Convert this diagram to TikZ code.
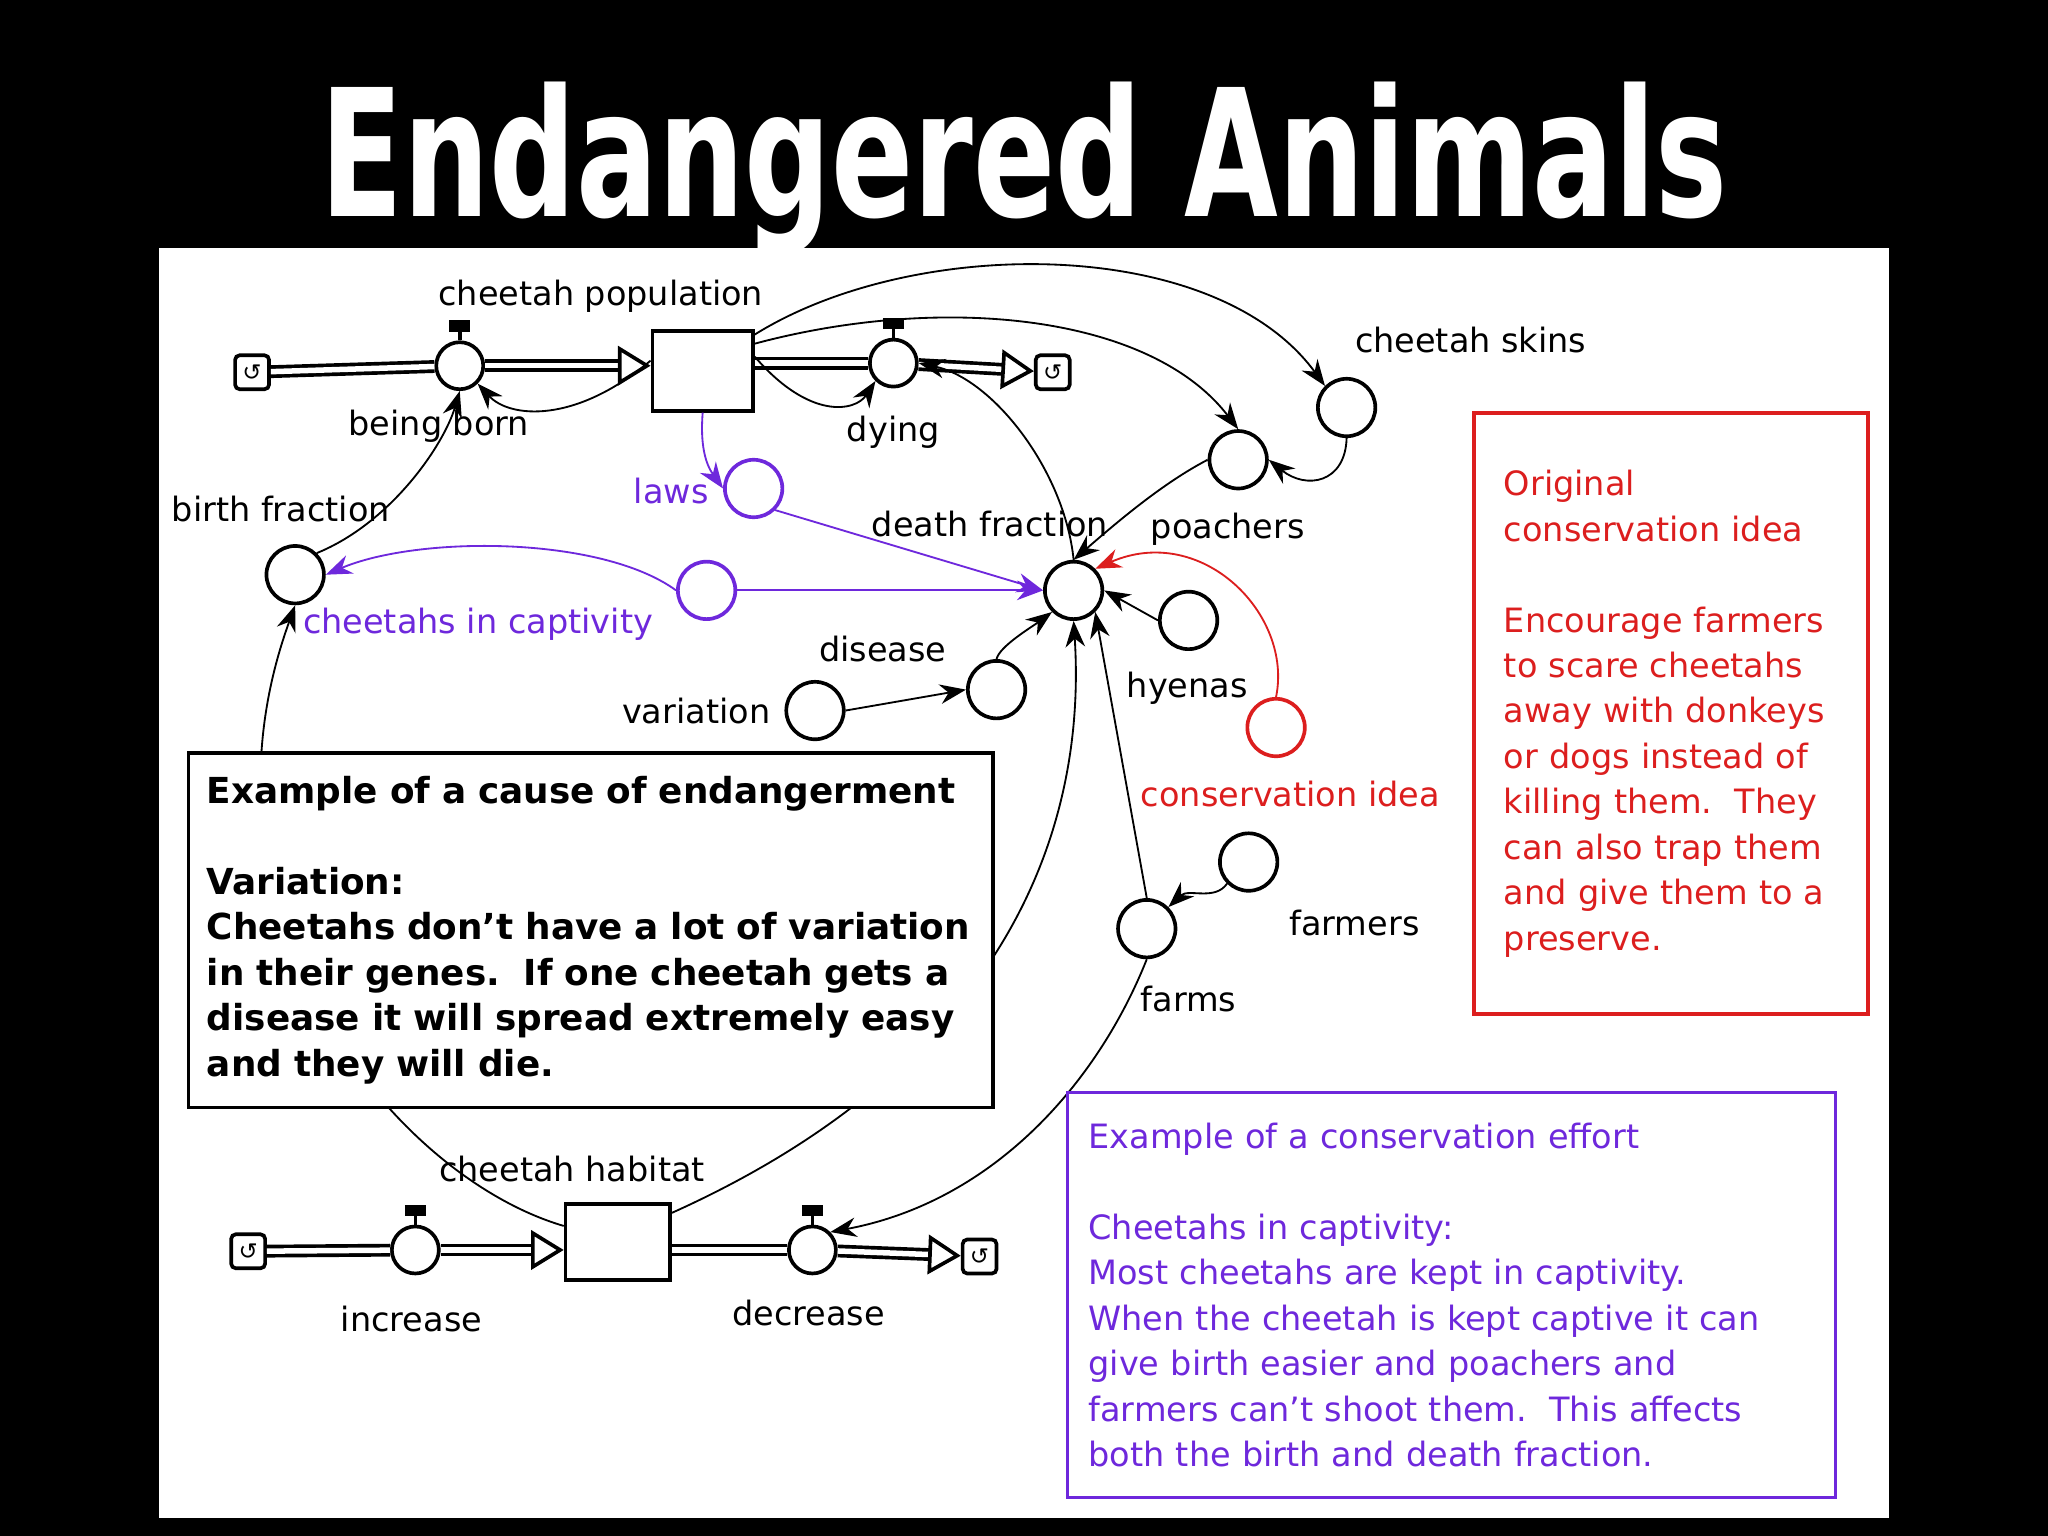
\documentclass[tikz,border=0pt]{standalone}
\usepackage{fontspec}
\setmainfont{DejaVu Sans}
\usetikzlibrary{arrows.meta}
\definecolor{pur}{RGB}{110,40,220}
\definecolor{rd}{RGB}{220,30,30}
\newcommand{\apos}{\symbol{"27}}
\tikzset{
 aux/.style={draw,circle,minimum size=4.4mm,inner sep=0pt,thick},
 lab/.style={font=\fontsize{7.3}{8}\selectfont,inner sep=0pt},
 link/.style={-{Stealth[length=2mm]},thin},
 flow/.style={draw,double distance=1.2pt,thick,-{Triangle[open,length=2.5mm,width=3mm]}},
 pipe/.style={draw,double distance=1.2pt,thick},
 stock/.style={draw,thick,fill=white,rectangle},
 cloud/.style={draw,thick,rounded corners=1pt,minimum size=2.6mm,inner sep=0pt,fill=white,font=\fontsize{5}{5}\selectfont},
 valve/.style={aux,minimum size=3.6mm},
 bx/.style={draw,thick,fill=white,align=left,anchor=north west,inner sep=0pt},
}
\begin{document}
\begin{tikzpicture}[x=0.1mm,y=-0.1mm]
\fill[black] (0,0) rectangle (1568,1176);
\fill[white] (122,190) rectangle (1446,1162);
\node[white,anchor=north west,inner sep=0pt] (title) at (245,62)
  {\resizebox{107.7mm}{10.3mm}{\bfseries Endangered Animals}};

% stocks and flows
\node[stock,minimum width=7.7mm,minimum height=6.1mm] (pop) at (538,284) {};
\node[stock,minimum width=8mm,minimum height=5.8mm] (hab) at (473,951) {};
\node[cloud] (c1) at (193,285) {↺};
\node[cloud] (c2) at (806,285) {↺};
\node[cloud] (c3) at (190,958) {↺};
\node[cloud] (c4) at (750,962) {↺};
\node[valve] (born) at (352,280) {};
\node[valve] (dying) at (684,278) {};
\node[valve] (inc) at (318,957) {};
\node[valve] (dec) at (622,957) {};
\foreach \v in {born,dying,inc,dec}{
  \draw[thick] (\v.north) -- ++(0,-10);
  \draw[line width=2.5pt] (\v.north) ++(-8,-11) -- ++(16,0);}
\draw[pipe] (c1) -- (born);
\draw[flow] (born) -- (pop.west|-born);
\draw[pipe] (pop.east|-dying) -- (dying);
\draw[flow] (dying) -- (c2);
\draw[pipe] (c3) -- (inc);
\draw[flow] (inc) -- (hab.west|-inc);
\draw[pipe] (hab.east|-dec) -- (dec);
\draw[flow] (dec) -- (c4);

% auxiliaries
\node[aux] (skins) at (1031,312) {};
\node[aux] (poach) at (948,352) {};
\node[aux,pur] (laws) at (577,374) {};
\node[aux] (death) at (822,452) {};
\node[aux] (birth) at (226,440) {};
\node[aux,pur] (capt) at (541,452) {};
\node[aux] (hyena) at (910,475) {};
\node[aux] (dis) at (763,528) {};
\node[aux] (var) at (624,544) {};
\node[aux,rd] (cons) at (977,557) {};
\node[aux] (farmer) at (956,660) {};
\node[aux] (farms) at (878,711) {};

% labels
\node[lab] (l1) at (460,227) {cheetah population};
\node[lab] (l2) at (336,326) {being born};
\node[lab] (l3) at (684,331) {dying};
\node[lab] (l4) at (1126,260) {cheetah skins};
\node[lab] (l5) at (940,405) {poachers};
\node[lab,pur] (l6) at (514,376) {laws};
\node[lab] (l7) at (758,401) {death fraction};
\node[lab] (l8) at (215,390) {birth fraction};
\node[lab,pur] (l9) at (366,478) {cheetahs in captivity};
\node[lab] (l10) at (909,527) {hyenas};
\node[lab] (l11) at (676,497) {disease};
\node[lab] (l12) at (533,544) {variation};
\node[lab,rd] (l13) at (988,608) {conservation idea};
\node[lab] (l14) at (1037,707) {farmers};
\node[lab] (l15) at (910,765) {farms};
\node[lab] (l16) at (438,895) {cheetah habitat};
\node[lab] (l17) at (315,1010) {increase};
\node[lab] (l18) at (619,1005) {decrease};

% connectors
\draw[link] ([yshift=-2.4mm]pop.north west) .. controls (440,325) and (390,320) .. (born.south east);
\draw[link] ([yshift=-2.1mm]pop.north east) .. controls (620,322) and (655,315) .. (dying.south west);
\draw[link] ([yshift=-0.4mm]pop.north east) .. controls (700,180) and (930,180) .. (skins.north west);
\draw[link] ([yshift=-1.1mm]pop.north east) .. controls (720,225) and (880,240) .. (poach.north);
\draw[link] (skins.south) .. controls (1030,370) and (1000,375) .. (poach.east);
\draw[link] (poach.west) .. controls (890,370) and (855,400) .. (death.north);
\draw[link,pur] (pop.south) .. controls (536,340) and (540,355) .. (laws.west);
\draw[link,pur] (laws.south east) -- (death.west);
\draw[link,pur] (capt.east) -- (death.west);
\draw[link,pur] (capt.west) .. controls (460,410) and (320,410) .. (birth.east);
\draw[link] (birth.north east) .. controls (300,400) and (340,340) .. (born.south);
\draw[link] (death.north) .. controls (815,360) and (760,290) .. (dying.east);
\draw[link] (hyena.west) -- (death.east);
\draw[link] (dis.north) .. controls (765,495) and (790,480) .. (death.south west);
\draw[link] (var.east) -- (dis.west);
\draw[link,rd] (cons.north) .. controls (990,470) and (920,400) .. (death.north east);
\draw[link] (farmer.south west) .. controls (930,690) and (910,680) .. (farms.north east);
\draw[link] (farms.north) -- (death.south east);
\draw[link] (farms.south) .. controls (840,830) and (760,920) .. (dec.north east);
\draw[link] ([yshift=-1.8mm]hab.north west) .. controls (300,900) and (140,700) .. (birth.south);
\draw[link] ([yshift=-0.8mm]hab.north east) .. controls (800,800) and (830,600) .. (death.south);

% boxes
\node[bx,text width=58.8mm,minimum height=27mm,font=\fontsize{7.8}{9.9}\selectfont\bfseries,inner xsep=1.4mm,inner ysep=1.8mm] (box1) at (143,575)
 {Example of a cause of endangerment\\[9.9pt]Variation:\\Cheetahs don\apos t have a lot of variation\\in their genes.\ \ If one cheetah gets a\\disease it will spread extremely easy\\and they will die.};
\node[bx,draw=rd,text=rd,text width=25.6mm,minimum height=46mm,font=\fontsize{7.3}{9.9}\selectfont,inner xsep=2.3mm,inner ysep=2.4mm] (box2) at (1127,315)
 {Original\\conservation idea\\[9.9pt]Encourage farmers\\to scare cheetahs\\away with donkeys\\or dogs instead of\\killing them.\ \ They\\can also trap them\\and give them to a\\preserve.};
\node[bx,draw=pur,text=pur,text width=55.6mm,minimum height=31mm,font=\fontsize{7.3}{9.9}\selectfont,inner xsep=1.6mm,inner ysep=2.2mm] (box3) at (816,835)
 {Example of a conservation effort\\[9.9pt]Cheetahs in captivity:\\Most cheetahs are kept in captivity.\\When the cheetah is kept captive it can\\give birth easier and poachers and\\farmers can\apos t shoot them.\ \ This affects\\both the birth and death fraction.};
\end{tikzpicture}
\end{document}
